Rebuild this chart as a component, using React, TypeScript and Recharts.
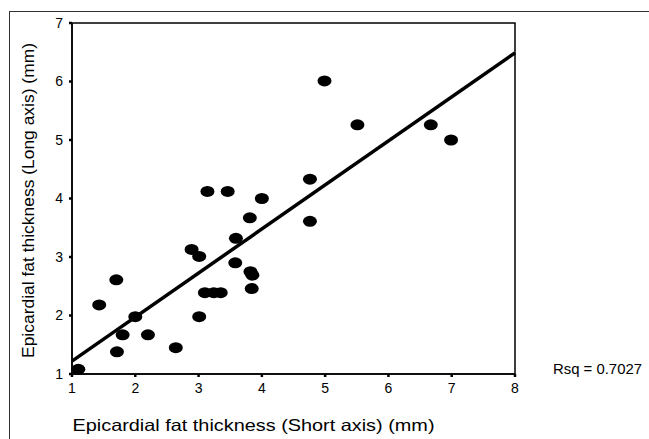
import React from 'react';
import { ScatterChart, Scatter, XAxis, YAxis, ReferenceLine, ReferenceArea } from 'recharts';

// short axis (x) vs long axis (y), mm
const shortAxis = [
  1.1, 1.43, 1.7, 2.0, 1.8, 1.71, 2.2, 2.64, 3.01,
  3.1, 3.24, 3.35, 3.84, 3.82, 3.85, 3.58, 2.89, 3.01,
  3.59, 3.81, 4.0, 3.14, 3.46, 4.76, 4.76, 4.99, 5.51, 6.67, 6.99,
];
const longAxis = [
  1.08, 2.18, 2.61, 1.98, 1.67, 1.38, 1.67, 1.45, 1.98,
  2.39, 2.39, 2.39, 2.46, 2.75, 2.69, 2.9, 3.13, 3.01,
  3.32, 3.67, 4.0, 4.12, 4.12, 4.33, 3.61, 6.01, 5.26, 5.26, 5.0,
];
const xTicks = [1, 2, 3, 4, 5, 6, 7, 8];
const yTicks = [1, 2, 3, 4, 5, 6, 7];
// fitted line end points
const fitLine = [
  { x: 1, y: 1.22 },
  { x: 8, y: 6.49 },
];

const points = shortAxis.map((x, i) => ({ x, y: longAxis[i] }));

const FONT = '"Liberation Sans", Arial, sans-serif';

const Dot = (props: any) => <ellipse cx={props.cx} cy={props.cy} rx={7} ry={5.5} fill="#000" />;

export default function App() {
  return (
    <div style={{ position: 'relative', width: 649, height: 439, background: '#fff', fontFamily: FONT, overflow: 'hidden' }}>
      <style>{'body{margin:0}'}</style>
      {/* outer frame */}
      <div style={{ position: 'absolute', left: 9, top: 11, width: 700, height: 500, borderLeft: '1px solid #333', borderTop: '1px solid #333' }} />
      <ScatterChart width={649} height={439} margin={{ top: 23, right: 134, bottom: 35, left: 32 }}>
        <XAxis
          type="number"
          dataKey="x"
          domain={[1, 8]}
          ticks={xTicks}
          height={30}
          stroke="#000"
          strokeWidth={1.5}
          tickSize={3}
          tickMargin={6}
          tickLine={{ stroke: '#000', strokeWidth: 2.5 }}
          tick={{ fill: '#000', fontSize: 14, fontFamily: FONT }}
          label={{
            content: (p: any) => (
              <text x={p.viewBox.x + 0.5} y={431} fontSize={16.5} fontFamily={FONT} fill="#000" textLength={362} lengthAdjust="spacingAndGlyphs">
                Epicardial fat thickness (Short axis) (mm)
              </text>
            ),
          }}
        />
        <YAxis
          type="number"
          dataKey="y"
          domain={[1, 7]}
          ticks={yTicks}
          width={40}
          stroke="#000"
          strokeWidth={1.5}
          tickSize={3}
          tickMargin={6}
          tickLine={{ stroke: '#000', strokeWidth: 2.5 }}
          tick={{ fill: '#000', fontSize: 14, fontFamily: FONT }}
          label={{
            content: () => (
              <text x={34} y={200.5} fontSize={16.5} fontFamily={FONT} fill="#000" textAnchor="middle" transform="rotate(-90 34 200.5)" textLength={315} lengthAdjust="spacingAndGlyphs">
                Epicardial fat thickness (Long axis) (mm)
              </text>
            ),
          }}
        />
        <ReferenceArea x1={1} x2={8} y1={1} y2={7} fill="none" stroke="#000" strokeWidth={1.5} />
        <Scatter data={points} shape={Dot} isAnimationActive={false} />
        <ReferenceLine segment={fitLine} stroke="#000" strokeWidth={3.5} />
      </ScatterChart>
      <svg width={120} height={30} style={{ position: 'absolute', left: 540, top: 355 }}>
        <text x={13} y={19} fontSize={15} fontFamily={FONT} fill="#000" textLength={89} lengthAdjust="spacingAndGlyphs">
          Rsq = 0.7027
        </text>
      </svg>
    </div>
  );
}
